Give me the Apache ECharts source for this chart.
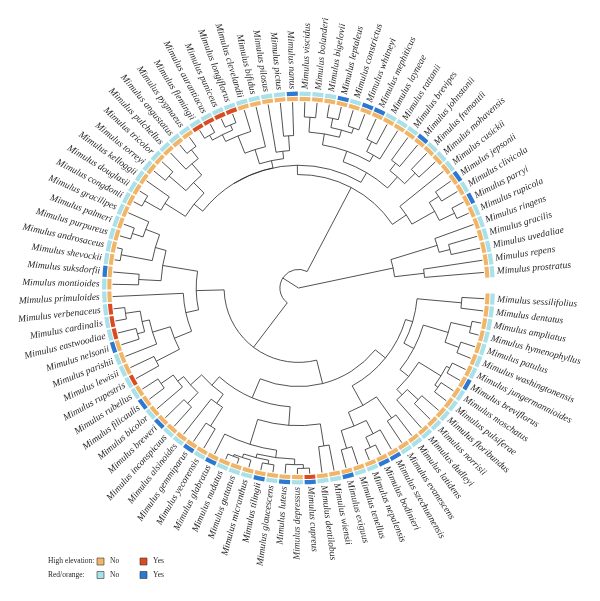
<!DOCTYPE html>
<html>
<head>
<meta charset="utf-8">
<script src="https://cdn.jsdelivr.net/npm/echarts@6/dist/echarts.min.js"></script>
<style>
html, body { margin: 0; padding: 0; background: #fff; }
#chart { width: 600px; height: 601px; }
</style>
</head>
<body>
<div id="chart"></div>
<script>
// leaves in ring order, clockwise from just below 3 o'clock
var species = ['sessilifolius', 'dentatus', 'ampliatus', 'hymenophyllus', 'patulus', 'washingtonensis',
    'jungermannioides', 'breviflorus', 'moschatus', 'pulsiferae', 'floribundus', 'norrisii', 'dudleyi',
    'latidens', 'evanescens', 'szechuanensis', 'bodinieri', 'nepalensis', 'tenellus', 'exiguus', 'wiensii',
    'dentilobus', 'cupreus', 'depressus', 'luteus', 'glaucescens', 'tilingii', 'micranthus', 'guttatus',
    'nudatus', 'glabratus', 'yecorensis', 'gemmiparus', 'alsinoides', 'inconspicuus', 'breweri', 'bicolor',
    'filicaulis', 'rubellus', 'rupestris', 'lewisii', 'parishii', 'nelsonii', 'eastwoodiae', 'cardinalis',
    'verbenaceus', 'primuloides', 'montioides', 'suksdorfii', 'shevockii', 'androsaceus', 'purpureus',
    'palmeri', 'gracilipes', 'congdonii', 'douglasii', 'kelloggii', 'torreyi', 'tricolor', 'pulchellus',
    'angustatus', 'pygmaeus', 'flemingii', 'aurantiacus', 'puniceus', 'longiflorus', 'clevelandii', 'bifidus',
    'pilosus', 'pictus', 'nanus', 'viscidus', 'bolanderi', 'bigelovii', 'leptaleus', 'constrictus', 'whitneyi',
    'mephiticus', 'layneae', 'rattanii', 'brevipes', 'johnstonii', 'fremontii', 'mohavensis', 'cusickii',
    'jepsonii', 'clivicola', 'parryi', 'rupicola', 'ringens', 'gracilis', 'uvedaliae', 'repens', 'prostratus'];

// inner ring: "Yes" cells (red)
var innerYes = ['flemingii', 'aurantiacus', 'puniceus', 'longiflorus', 'verbenaceus', 'cardinalis',
    'eastwoodiae', 'rupestris', 'cupreus'];
// outer ring: "Yes" cells (blue)
var outerYes = ['nanus', 'leptaleus', 'whitneyi', 'mephiticus', 'johnstonii', 'jepsonii', 'parryi',
    'suksdorfii', 'nelsonii', 'filicaulis', 'breweri', 'gemmiparus', 'glabratus', 'tilingii', 'luteus',
    'cupreus', 'exiguus', 'bodinieri', 'szechuanensis', 'breviflorus'];

// tree: [node height (root 0, tips 100), children...]
var mosch = [64, [88, 'sessilifolius', 'dentatus'],
    [70, [84, [95, 'ampliatus', 'hymenophyllus'], [92, 'patulus', 'washingtonensis']],
        [76, [90, [92, 'jungermannioides', 'breviflorus'], [92, 'moschatus', 'pulsiferae']],
            [80, [88, 'floribundus', 'norrisii'], 'dudleyi']]]];
var asian = [72, [86, 'latidens', 'evanescens'],
    [80, [88, 'szechuanensis', [94, 'bodinieri', 'nepalensis']], [90, 'tenellus', 'exiguus']]];
var simiolus = [74, [86, 'wiensii', 'dentilobus'],
    [88, [92, [95, [97, 'cupreus', 'depressus'], 'luteus'],
        [94, [96, 'glaucescens', 'tilingii'], [96, 'micranthus', [97, 'guttatus', 'nudatus']]]], 'glabratus']];
var smallEry = [70, [76, [88, 'yecorensis', 'gemmiparus'], 'alsinoides'],
    [78, [86, 'inconspicuus', 'breweri'], [82, 'bicolor', [90, 'filicaulis', 'rubellus']]]];
var erySect = [72, [86, 'rupestris', 'lewisii'],
    [82, 'parishii', [86, [90, 'nelsonii', 'eastwoodiae'], [94, 'cardinalis', 'verbenaceus']]]];
var leftRest = [74, [86, 'montioides', 'suksdorfii'],
    [80, [97, 'shevockii', 'androsaceus'], [88, [94, 'purpureus', 'palmeri'], 'gracilipes']]];
var dipLeft = [66,
    [72, [85, [95, 'congdonii', 'douglasii'], 'kelloggii'],
        [80, [92, 'torreyi', 'tricolor'], [88, 'pulchellus', [94, 'angustatus', 'pygmaeus']]]],
    [70, [78, [88, [92, [95, 'flemingii', 'aurantiacus'], [95, 'puniceus', 'longiflorus']], 'clevelandii'], 'bifidus'],
        [74, 'pilosus', [82, 'pictus', 'nanus']]]];
var dipRight = [72,
    [78, [84, [92, 'viscidus', 'bolanderi'], [88, [93, 'bigelovii', 'leptaleus'], [91, 'constrictus', 'whitneyi']]],
        [82, [88, 'mephiticus', 'layneae'], 'rattanii']],
    [80, [85, 'brevipes', 'johnstonii'], [88, 'fremontii', 'mohavensis']]];
var dipEnd = [70, 'cusickii', [84, [90, 'jepsonii', 'clivicola'], [93, 'parryi', 'rupicola']]];
var rightClade = [52, [78, 'ringens', [84, 'gracilis', 'uvedaliae']], [68, 'repens', 'prostratus']];

var tree = [0,
    [10,
        [40, [55, [62, erySect, 'primuloides'], leftRest], [53, [60, mosch, asian], [64, simiolus, smallEry]]],
        [61, [66, dipLeft, dipRight], dipEnd]],
    rightClade];

var slots = 95.14;   // leaf spacing incl. the gap on the right
var colors = {inNo: '#F2B567', inYes: '#DC4A1F', outNo: '#A9E1EA', outYes: '#2B79D3'};

// flatten tree: [parent height, angle slot, height, first child slot, last child slot]
var branches = [];
function place(node, parentH) {
    if (typeof node === 'string') {
        var i = species.indexOf(node);
        branches.push([parentH, i, 100, i, i]);
        return i;
    }
    var h = node[0], kids = [];
    for (var k = 1; k < node.length; k++) kids.push(place(node[k], h));
    var lo = Math.min.apply(null, kids), hi = Math.max.apply(null, kids);
    branches.push([parentH, (lo + hi) / 2, h, lo, hi]);
    return (lo + hi) / 2;
}
place(tree, 0);

function angleOf(cs, p) {
    return Math.atan2(p[1] - cs.cy, p[0] - cs.cx);
}
function radiusOf(cs, p) {
    return Math.sqrt((p[0] - cs.cx) * (p[0] - cs.cx) + (p[1] - cs.cy) * (p[1] - cs.cy));
}

function renderBranch(params, api) {
    var cs = params.coordSys;
    var a = api.value(1), h = api.value(2), lo = api.value(3), hi = api.value(4);
    var p0 = api.coord([api.value(0), a]), p1 = api.coord([h, a]);
    var lineStyle = {stroke: '#262626', lineWidth: 0.8, fill: null};
    var els = [{type: 'line', shape: {x1: p0[0], y1: p0[1], x2: p1[0], y2: p1[1]}, style: lineStyle}];
    if (hi > lo) {
        var q0 = api.coord([h, lo]), q1 = api.coord([h, hi]);
        var s = angleOf(cs, q0), e = angleOf(cs, q1);
        if (e < s) e += Math.PI * 2;
        els.push({type: 'arc', shape: {cx: cs.cx, cy: cs.cy, r: radiusOf(cs, q0), startAngle: s, endAngle: e, clockwise: true},
            style: lineStyle});
    }
    return {type: 'group', children: els};
}

function renderCells(params, api) {
    var cs = params.coordSys;
    var i = api.value(1);
    var s = angleOf(cs, api.coord([100, i - 0.43])), e = angleOf(cs, api.coord([100, i + 0.43]));
    if (e < s) e += Math.PI * 2;
    function band(r0, r1, color) {
        return {type: 'sector', shape: {cx: cs.cx, cy: cs.cy, r0: radiusOf(cs, api.coord([r0, i])),
            r: radiusOf(cs, api.coord([r1, i])), startAngle: s, endAngle: e, clockwise: true},
            style: {fill: color}};
    }
    return {type: 'group', children: [
        band(100.6, 102.8, api.value(2) ? colors.inYes : colors.inNo),
        band(103.3, 105.6, api.value(3) ? colors.outYes : colors.outNo)
    ]};
}

function renderLabel(params, api) {
    var cs = params.coordSys;
    var i = api.value(1);
    var p = api.coord([107, i]);
    var ang = angleOf(cs, p);
    var left = Math.cos(ang) < 0;
    return {type: 'text', x: p[0], y: p[1], rotation: left ? Math.PI - ang : -ang,
        style: {text: 'Mimulus ' + species[i], align: left ? 'right' : 'left', verticalAlign: 'middle',
            font: 'italic 9.5px "Liberation Serif"', fill: '#231F20'}};
}

var cellData = species.map(function (s, i) {
    return [100, i, innerYes.indexOf(s) >= 0 ? 1 : 0, outerYes.indexOf(s) >= 0 ? 1 : 0];
});
var labelData = species.map(function (s, i) { return [107, i]; });

function legendRow(y, title, noColor, yesColor) {
    var font = '7.5px "Liberation Serif"';
    return [
        {type: 'text', x: 48, y: y, style: {text: title, font: font, fill: '#231F20', verticalAlign: 'middle'}},
        {type: 'rect', shape: {x: 97, y: y - 3.5, width: 7, height: 7}, style: {fill: noColor, stroke: '#333', lineWidth: 0.6}},
        {type: 'text', x: 110, y: y, style: {text: 'No', font: font, fill: '#231F20', verticalAlign: 'middle'}},
        {type: 'rect', shape: {x: 140, y: y - 3.5, width: 7, height: 7}, style: {fill: yesColor, stroke: '#333', lineWidth: 0.6}},
        {type: 'text', x: 153, y: y, style: {text: 'Yes', font: font, fill: '#231F20', verticalAlign: 'middle'}}
    ];
}

var chart = echarts.init(document.getElementById('chart'));
chart.setOption({
    animation: false,
    polar: {center: [298.5, 288], radius: 110 * 1.86},
    angleAxis: {type: 'value', min: 0, max: slots, startAngle: 356.7, clockwise: true, show: false},
    radiusAxis: {type: 'value', min: 0, max: 110, show: false},
    graphic: legendRow(561.5, 'High elevation:', colors.inNo, colors.inYes)
        .concat(legendRow(575, 'Red/orange:', colors.outNo, colors.outYes)),
    series: [
        {type: 'custom', coordinateSystem: 'polar', renderItem: renderBranch, data: branches, silent: true},
        {type: 'custom', coordinateSystem: 'polar', renderItem: renderCells, data: cellData, silent: true},
        {type: 'custom', coordinateSystem: 'polar', renderItem: renderLabel, data: labelData, silent: true}
    ]
});
</script>
</body>
</html>
